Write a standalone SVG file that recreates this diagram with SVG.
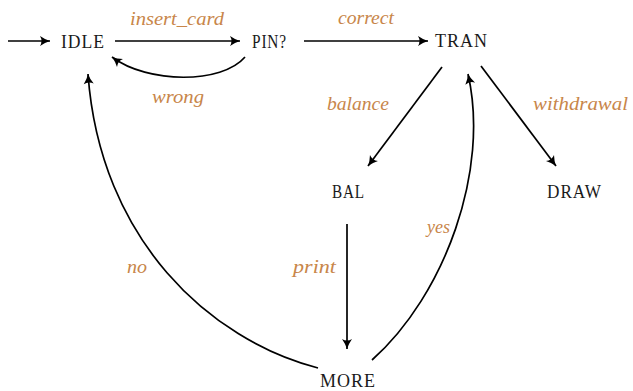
<svg xmlns="http://www.w3.org/2000/svg" width="633" height="391" viewBox="0 0 633 391">
<defs>
<style>
.node{font-size:18px;fill:#1a1a1a;letter-spacing:1px}
.lbl{font-size:18px;font-style:italic;fill:#c8864a}
.edge{fill:none;stroke:#000;stroke-width:1.7}
</style>
<marker id="arr" markerUnits="userSpaceOnUse" markerWidth="14" markerHeight="12" viewBox="-11 -6 12 12" refX="0" refY="0" orient="auto">
<path d="M0,0 Q-5,-1.5 -10,-5 Q-7,0 -10,5 Q-5,1.5 0,0 Z" fill="#000"/>
</marker>
</defs>
<rect width="633" height="391" fill="#fff"/>
<g id="connectors">
<path class="edge" d="M8,41 L50,41" marker-end="url(#arr)"/>
<path class="edge" d="M115,41 L240,41" marker-end="url(#arr)"/>
<path class="edge" d="M245,57 C222,84 148,84 112,57" marker-end="url(#arr)"/>
<path class="edge" d="M304,41 L428,41" marker-end="url(#arr)"/>
<path class="edge" d="M442,67 L368,166" marker-end="url(#arr)"/>
<path class="edge" d="M481,66 L556,166" marker-end="url(#arr)"/>
<path class="edge" d="M347,224 L347,349" marker-end="url(#arr)"/>
<path class="edge" d="M372,360 C445,295 490,170 468,74" marker-end="url(#arr)"/>
<path class="edge" d="M318,368 C210,340 100,240 88,74" marker-end="url(#arr)"/>
</g>
<g id="edge-labels" font-family="'Liberation Serif', 'DejaVu Serif', serif">
<text class="lbl" x="130" y="25" textLength="94" lengthAdjust="spacingAndGlyphs">insert_card</text>
<text class="lbl" x="152" y="103" textLength="52" lengthAdjust="spacingAndGlyphs">wrong</text>
<text class="lbl" x="338" y="24" textLength="56" lengthAdjust="spacingAndGlyphs">correct</text>
<text class="lbl" x="327" y="110" textLength="62" lengthAdjust="spacingAndGlyphs">balance</text>
<text class="lbl" x="533" y="110" textLength="95" lengthAdjust="spacingAndGlyphs">withdrawal</text>
<text class="lbl" x="293" y="273" textLength="43" lengthAdjust="spacingAndGlyphs">print</text>
<text class="lbl" x="427" y="233" textLength="23" lengthAdjust="spacingAndGlyphs">yes</text>
<text class="lbl" x="127" y="273" textLength="20" lengthAdjust="spacingAndGlyphs">no</text>
</g>
<g font-family="'Liberation Serif', 'DejaVu Serif', serif">
<g id="IDLE"><text class="node" x="61" y="47.5" textLength="44" lengthAdjust="spacingAndGlyphs">IDLE</text></g>
<g id="PIN"><text class="node" x="252" y="47.5" textLength="35" lengthAdjust="spacingAndGlyphs">PIN?</text></g>
<g id="TRAN"><text class="node" x="435" y="47" textLength="53" lengthAdjust="spacingAndGlyphs">TRAN</text></g>
<g id="BAL"><text class="node" x="332" y="198" textLength="33" lengthAdjust="spacingAndGlyphs">BAL</text></g>
<g id="DRAW"><text class="node" x="547" y="198" textLength="55" lengthAdjust="spacingAndGlyphs">DRAW</text></g>
<g id="MORE"><text class="node" x="320" y="387" textLength="56" lengthAdjust="spacingAndGlyphs">MORE</text></g>
</g>
</svg>
